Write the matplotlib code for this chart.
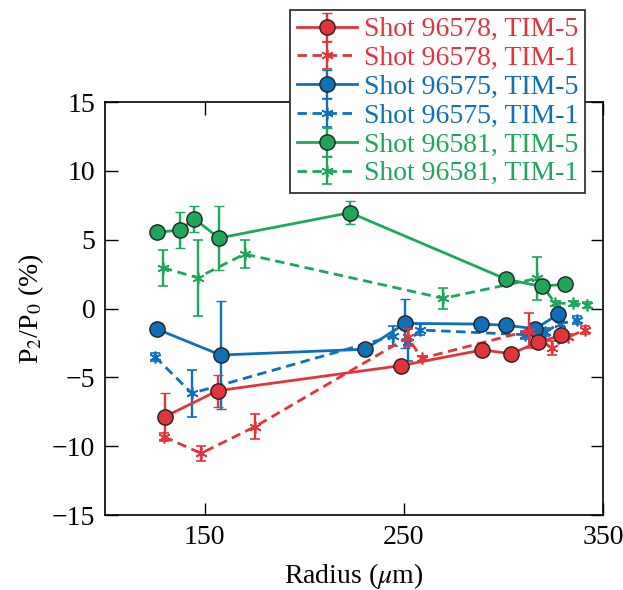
import numpy as np
import matplotlib
matplotlib.use("Agg")
import matplotlib.pyplot as plt

plt.rcParams['font.family'] = ['Liberation Serif', 'DejaVu Serif']
plt.rcParams['mathtext.fontset'] = 'stix'

# ---- data ----
red5_x = [130.0, 156.6, 248.4, 289.4, 304.0, 317.5, 329.1]
red5_y = [-7.86, -5.97, -4.15, -3.01, -3.28, -2.44, -1.95]
red5_e = [1.7, 1.15, 0, 0, 0, 0, 0]

red1_x = [129.6, 148.2, 175.3, 252.0, 259.0, 313.0, 324.2, 332.6, 341.0]
red1_y = [-9.31, -10.52, -8.58, -2.1, -3.62, -1.6, -2.89, -2.05, -1.56]
red1_e = [0.3, 0.55, 0.9, 0.6, 0.2, 1.3, 0.5, 0.2, 0.3]

blue5_x = [126.3, 158.1, 230.5, 250.7, 288.6, 301.4, 316.0, 327.6]
blue5_y = [-1.51, -3.38, -2.96, -1.08, -1.13, -1.22, -1.47, -0.41]
blue5_e = [0, 3.9, 0, 1.8, 0, 0, 0, 0]

blue1_x = [125.1, 143.6, 244.7, 252.3, 258.1, 310.8, 320.9, 328.3, 336.8]
blue1_y = [-3.5, -6.16, -2.0, -2.4, -1.56, -1.9, -1.7, -1.1, -0.86]
blue1_e = [0.3, 1.7, 0.75, 1.4, 0.4, 0.3, 0.3, 0.2, 0.3]

green5_x = [126.0, 137.7, 144.8, 157.2, 223.0, 301.5, 319.2, 330.8]
green5_y = [5.53, 5.7, 6.52, 5.12, 6.96, 2.12, 1.6, 1.78]
green5_e = [0, 1.3, 0.95, 2.3, 0.85, 0, 0, 0]

green1_x = [129.1, 146.5, 170.1, 269.8, 317.0, 325.9, 335.1, 342.0]
green1_y = [2.96, 2.24, 3.96, 0.74, 2.19, 0.38, 0.38, 0.25]
green1_e = [1.3, 2.75, 1.0, 0.75, 1.55, 0.2, 0.2, 0.2]

labels = ["Shot 96578, TIM-5", "Shot 96578, TIM-1",
          "Shot 96575, TIM-5", "Shot 96575, TIM-1",
          "Shot 96581, TIM-5", "Shot 96581, TIM-1"]
RED = '#E3343C'
BLUE = '#0F6FB8'
GREEN = '#1EA75A'

FS = 20

fig = plt.figure(figsize=(6.23, 5.90), dpi=100)
ax = fig.add_axes([0.1685, 0.1271, 0.7995, 0.7000])

lw = 2.0
def circ(x, y, e, c, z, lab):
    return ax.errorbar(x, y, yerr=e, color=c, ecolor=c, lw=lw, elinewidth=1.7,
                       capsize=3.6, capthick=1.7, marker='o', ms=11,
                       mfc=c, mec='#222222', mew=1.0, zorder=z, label=lab)

def star(x, y, e, c, z, lab):
    return ax.errorbar(x, y, yerr=e, color=c, ecolor=c, lw=lw, elinewidth=1.7,
                       capsize=3.6, capthick=1.7, marker=(6, 2, 0), ms=8.5,
                       mew=1.2, ls=(0, (3.4, 2.0)), zorder=z, label=lab)

h = []
h.append(circ(red5_x, red5_y, red5_e, RED, 8, labels[0]))
h.append(star(red1_x, red1_y, red1_e, RED, 7, labels[1]))
h.append(circ(blue5_x, blue5_y, blue5_e, BLUE, 6, labels[2]))
h.append(star(blue1_x, blue1_y, blue1_e, BLUE, 5, labels[3]))
h.append(circ(green5_x, green5_y, green5_e, GREEN, 4, labels[4]))
h.append(star(green1_x, green1_y, green1_e, GREEN, 3, labels[5]))

ax.set_xlim(100, 350)
ax.set_ylim(-15, 15)
ax.set_xticks([150, 250, 350])
ax.set_yticks([-15, -10, -5, 0, 5, 10, 15])
ax.tick_params(direction='in', length=9, width=1.0, labelsize=FS,
               top=True, right=True, pad=7)
for s in ax.spines.values():
    s.set_linewidth(1.2)

ax.set_xlabel(r"Radius ($\mu$m)", fontsize=FS, labelpad=8)
ax.set_ylabel(r"P$_2$/P$_0$ (%)", fontsize=FS, labelpad=4)

leg = fig.legend(h, labels, loc='upper left',
                 bbox_to_anchor=(290/623, 1 - 10/590),
                 fontsize=FS, frameon=True, fancybox=False, framealpha=1,
                 edgecolor='#333333', handlelength=2.15, handletextpad=0.25,
                 labelspacing=0.12, borderpad=0.25, borderaxespad=0)
leg.get_frame().set_linewidth(1.3)
cols = [RED, RED, BLUE, BLUE, GREEN, GREEN]
for t, c in zip(leg.get_texts(), cols):
    t.set_color(c)
leg.set_zorder(20)

fig.savefig("out.png", dpi=100)
